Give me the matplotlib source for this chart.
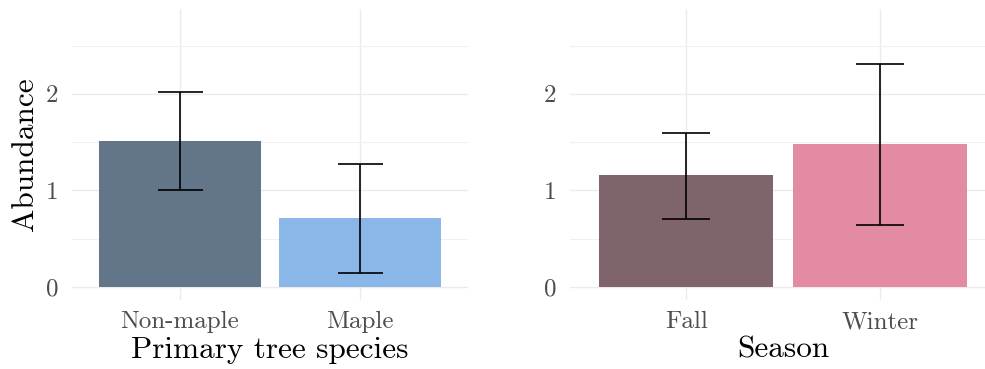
import numpy as np
import matplotlib.pyplot as plt
from matplotlib.ticker import MultipleLocator

plt.rcParams['font.family'] = ['cmr10', 'DejaVu Serif']
plt.rcParams['axes.formatter.use_mathtext'] = True

species = ['Non-maple', 'Maple']
species_mean = [1.51, 0.715]
species_lo = [1.00, 0.148]
species_hi = [2.02, 1.27]
species_colors = ['#637589', '#8ab6e8']

seasons = ['Fall', 'Winter']
season_mean = [1.16, 1.48]
season_lo = [0.70, 0.64]
season_hi = [1.60, 2.31]
season_colors = ['#80646b', '#e28ba2']

fig = plt.figure(figsize=(9.85, 3.69), dpi=100)
ax1 = fig.add_axes([72 / 985, 69 / 369, 396 / 985, 291 / 369])
ax2 = fig.add_axes([570 / 985, 69 / 369, 426 / 985, 291 / 369])


def panel(ax, cats, mean, lo, hi, colors, xlabel, ylabel=None):
    x = np.arange(1, len(cats) + 1)
    ax.bar(x, mean, width=0.9, color=colors, zorder=2)
    ax.vlines(x, lo, hi, color='black', lw=1.2, zorder=3)
    ax.hlines(lo, x - 0.125, x + 0.125, color='black', lw=1.2, zorder=3)
    ax.hlines(hi, x - 0.125, x + 0.125, color='black', lw=1.2, zorder=3)

    ax.set_xlim(0.4, 2.6)
    ax.set_ylim(-0.135, 2.88)
    ax.set_xticks(x)
    ax.set_xticklabels(cats)
    ax.yaxis.set_major_locator(MultipleLocator(1))
    ax.yaxis.set_minor_locator(MultipleLocator(0.5))
    ax.grid(which='major', color='#ebebeb', lw=1.0, zorder=0)
    ax.grid(which='minor', axis='y', color='#f0f0f0', lw=0.8, zorder=0)
    ax.set_axisbelow(True)
    ax.tick_params(which='both', length=0, labelsize=18, labelcolor='#4d4d4d')
    ax.tick_params(axis='x', pad=8)
    ax.tick_params(axis='y', pad=10)
    for s in ax.spines.values():
        s.set_visible(False)
    ax.set_xlabel(xlabel, fontsize=22.5, labelpad=2)
    if ylabel:
        ax.set_ylabel(ylabel, fontsize=22.5, labelpad=4)


panel(ax1, species, species_mean, species_lo, species_hi, species_colors,
      'Primary tree species', 'Abundance')
panel(ax2, seasons, season_mean, season_lo, season_hi, season_colors, 'Season')

fig.savefig('out.png', dpi=100)
